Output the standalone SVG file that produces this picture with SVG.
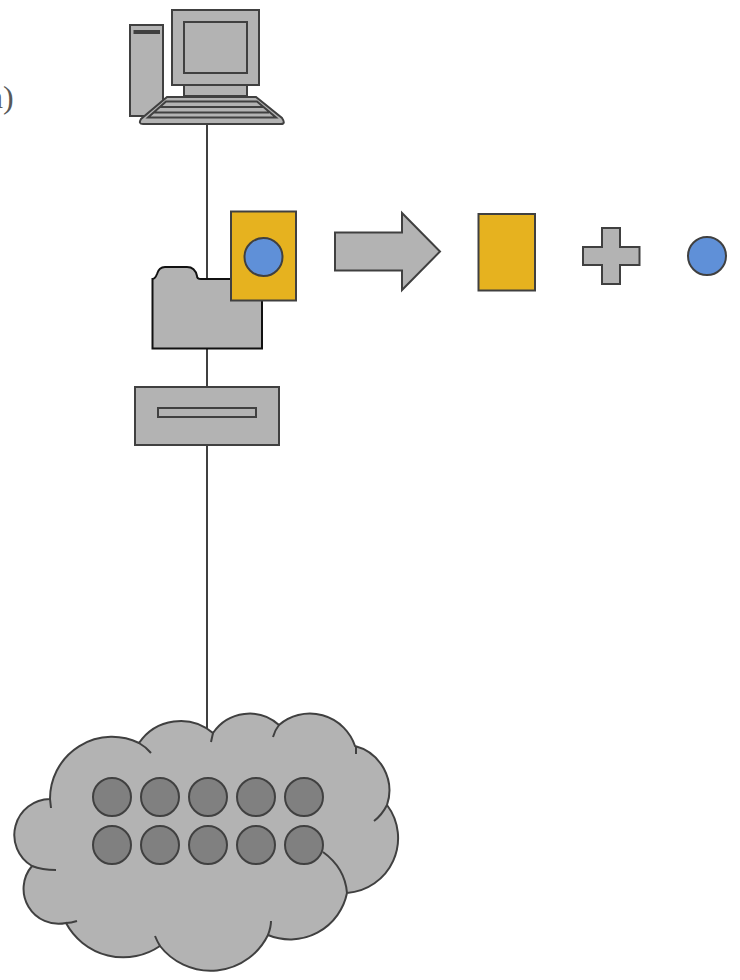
<svg xmlns="http://www.w3.org/2000/svg" width="740" height="980" viewBox="0 0 740 980">
<style>
.g{fill:#b3b3b3;stroke:#404040;stroke-width:2}
.l{fill:none;stroke:#404040;stroke-width:2}
.o{fill:#e6b21f;stroke:#404040;stroke-width:2}
.b{fill:#5f90d8;stroke:#404040;stroke-width:2}
.d{fill:#808080;stroke:#404040;stroke-width:2}
text{font-family:"Liberation Serif",serif;font-size:32px;fill:#595959}
</style>
<rect width="740" height="980" fill="#fff"/>
<g id="connectors">
<path class="l" d="M207 124V280M207 348V388M207 444V733"/>
</g>
<text id="label" x="-13" y="108">n)</text>
<g id="computer">
<rect class="g" x="130" y="25" width="33" height="91"/>
<rect x="133.500" y="30" width="26.500" height="4" fill="#404040"/>
<rect class="g" x="172" y="10" width="87" height="75"/>
<rect class="g" x="184" y="22" width="63" height="51"/>
<rect class="g" x="184" y="85" width="63" height="11"/>
<path class="g" d="M167 97H256L282 118Q286 124 281 124H143Q138 124 141 119Z"/>
<path class="l" d="M166 101.500H257L276 117.500H148ZM160 107H263M154 112.500H269"/>
</g>
<g id="folder">
<path d="M152.500 348.500V279Q155 279 157 274Q159 267 165 267H187Q195 267 197 276Q197 279 201 279H262V348.500Z" fill="#b3b3b3" stroke="#111" stroke-width="2"/>
</g>
<g id="document-disc">
<rect class="o" x="231" y="211.500" width="65" height="89"/>
<circle class="b" cx="263.500" cy="257" r="19"/>
</g>
<g id="drive">
<rect class="g" x="135" y="387" width="144" height="58"/>
<rect class="g" x="158" y="408" width="98" height="9"/>
</g>
<g id="arrow">
<path class="g" d="M335 232.500H402V213L440 251.500L402 290V270.500H335Z"/>
</g>
<g id="document">
<rect class="o" x="478.500" y="214" width="56.500" height="76.500"/>
</g>
<g id="plus">
<path class="g" d="M602 228H620V247H639.500V265H620V284H602V265H583V247H602Z"/>
</g>
<g id="disc">
<circle class="b" cx="707" cy="256" r="19"/>
</g>
<g id="cloud">
<path class="g" d="M66 923A35 35 0 0 1 32 866A36 36 0 0 1 50 799A62 62 0 0 1 139 743A50 50 0 0 1 213 733A44 44 0 0 1 279 725A47.600 47.600 0 0 1 355 746A46 46 0 0 1 387 805A55 55 0 0 1 347 893A58 58 0 0 1 268 935A64 64 0 0 1 160 946A65 65 0 0 1 66 923Z"/>
<path class="l" d="M139 743Q146 747 151 753M213 733L211 742M279 725Q275 730 273 737M356 746V754M387 805Q382 815 374 821M50 799L51 808M32 866Q42 870 56 870M66 923Q71 923 77 921M155 936Q157 941 160 946M268 935Q271 927 271 921M323 852Q345 868 347 893"/>
<circle class="d" cx="112" cy="797" r="19"/><circle class="d" cx="160" cy="797" r="19"/><circle class="d" cx="208" cy="797" r="19"/><circle class="d" cx="256" cy="797" r="19"/><circle class="d" cx="304" cy="797" r="19"/>
<circle class="d" cx="112" cy="845" r="19"/><circle class="d" cx="160" cy="845" r="19"/><circle class="d" cx="208" cy="845" r="19"/><circle class="d" cx="256" cy="845" r="19"/><circle class="d" cx="304" cy="845" r="19"/>
</g>
</svg>
